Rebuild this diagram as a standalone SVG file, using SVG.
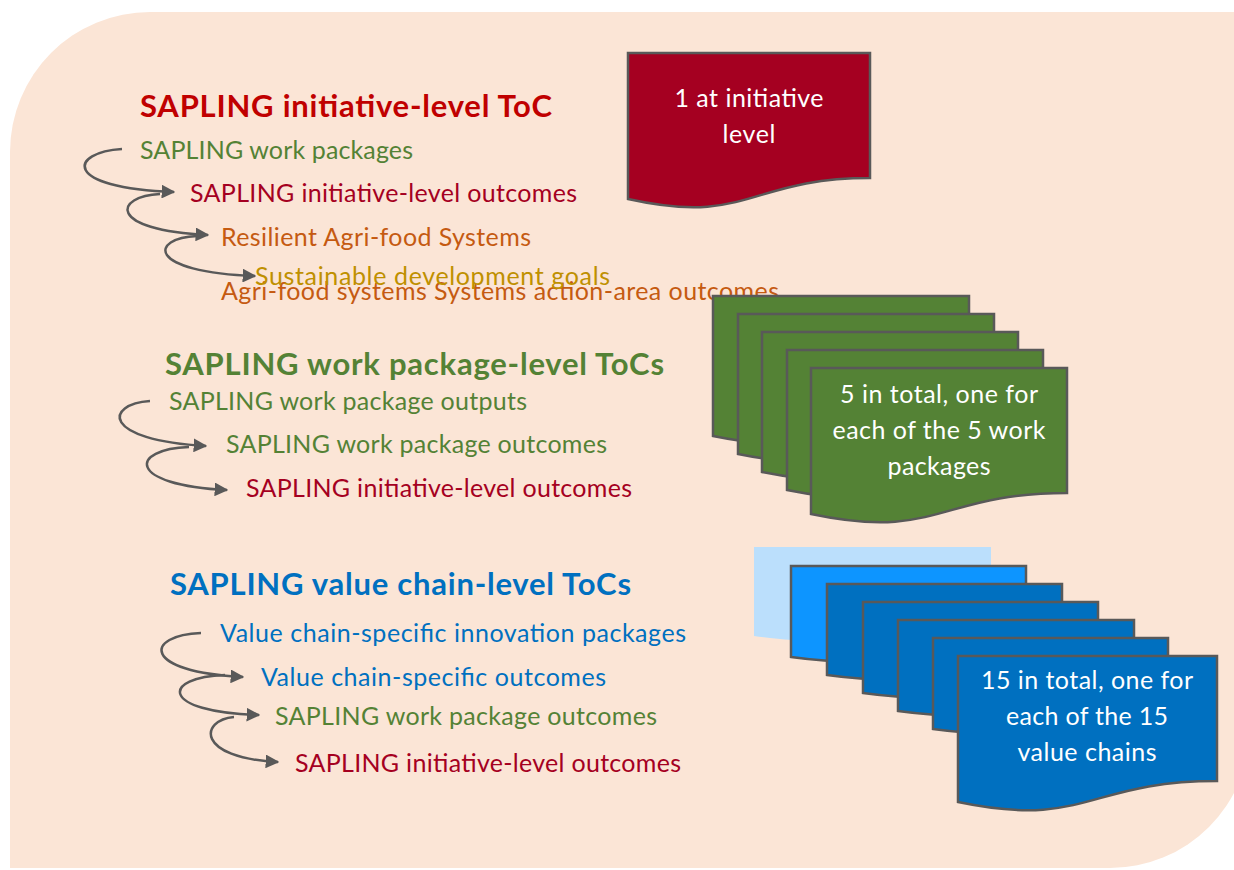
<svg xmlns="http://www.w3.org/2000/svg" width="1234" height="870" viewBox="0 0 1234 870">
  <style>
    text { font-family: Lato, "Open Sans", "Liberation Sans", sans-serif; }
    .title { font-size: 31px; font-weight: bold; }
    .item { font-size: 25px; }
    .doc-text { font-size: 25px; fill: #ffffff; text-anchor: middle; }
    .doc { stroke: #595959; stroke-width: 2.5; stroke-linejoin: miter; }
    .green { fill: #548235; }
    .crimson { fill: #A50021; }
    .orange { fill: #C55A11; }
    .gold { fill: #BF9000; }
    .blue { fill: #0070C0; }
    .red { fill: #C00000; }
    .conn { fill: none; stroke: #595959; stroke-width: 2.5; marker-end: url(#arrow); }
  </style>
  <defs>
    <marker id="arrow" viewBox="0 0 10 10" refX="9" refY="5" markerWidth="5.5" markerHeight="5.5" orient="auto" markerUnits="strokeWidth">
      <path d="M0,0 L10,5 L0,10 Z" fill="#595959"/>
    </marker>
  </defs>

  <!-- backdrop panel with two rounded corners -->
  <path d="M10,152 A140,140 0 0 1 150,12 H1250 V728 A140,140 0 0 1 1110,868 H10 Z" fill="#FBE5D6"/>

  <!-- initiative-level section -->
  <g id="initiative-section">
    <text class="title red" x="140" y="117" textLength="412">SAPLING initiative-level ToC</text>
    <text class="item green" x="140" y="159" textLength="273">SAPLING work packages</text>
    <text class="item crimson" x="190" y="202" textLength="387">SAPLING initiative-level outcomes</text>
    <text class="item orange" x="221" y="246" textLength="310">Resilient Agri-food Systems</text>
    <text class="item orange" x="221" y="300" textLength="558">Agri-food systems Systems action-area outcomes</text>
    <text class="item gold" x="255" y="285" textLength="355">Sustainable development goals</text>
  </g>

  <!-- work-package section -->
  <g id="work-package-section">
    <text class="title green" x="165" y="375" textLength="499">SAPLING work package-level ToCs</text>
    <text class="item green" x="169" y="410" textLength="358">SAPLING work package outputs</text>
    <text class="item green" x="226" y="453" textLength="381">SAPLING work package outcomes</text>
    <text class="item crimson" x="246" y="497" textLength="386">SAPLING initiative-level outcomes</text>
  </g>

  <!-- value-chain section -->
  <g id="value-chain-section">
    <text class="title blue" x="170" y="595" textLength="461">SAPLING value chain-level ToCs</text>
    <text class="item blue" x="220" y="642" textLength="466">Value chain-specific innovation packages</text>
    <text class="item blue" x="261" y="686" textLength="345">Value chain-specific outcomes</text>
    <text class="item green" x="275" y="725" textLength="382">SAPLING work package outcomes</text>
    <text class="item crimson" x="295" y="772" textLength="386">SAPLING initiative-level outcomes</text>
  </g>

  <!-- curved connectors between the levels -->
  <g id="connectors">
    <path class="conn" d="M122,149 C70,152 60,188 174,192"/>
    <path class="conn" d="M160,194 C115,196 105,230 208,235"/>
    <path class="conn" d="M197,236 C150,238 145,272 255,276"/>

    <path class="conn" d="M150,401 C105,404 100,440 206,446"/>
    <path class="conn" d="M189,447 C130,449 125,485 227,490"/>

    <path class="conn" d="M201,633 C145,635 140,672 243,677"/>
    <path class="conn" d="M225,675 C162,677 158,712 259,715"/>
    <path class="conn" d="M234,717 C200,720 195,758 278,762"/>
  </g>

  <!-- single initiative document -->
  <g id="initiative-doc">
    <path class="doc" fill="#A50021" d="M628,53 H870 V178 C749,178 749,226 628,199 Z"/>
    <text class="doc-text" x="749" y="107" textLength="149">1 at initiative</text>
    <text class="doc-text" x="749" y="143" textLength="53">level</text>
  </g>

  <!-- stack of five work-package documents -->
  <g id="work-package-docs">
    <path class="doc" fill="#548235" d="M713,296 H969 V416 C841,416 841,462 713,436 Z"/>
    <path class="doc" fill="#548235" d="M738,314 H994 V434 C866,434 866,480 738,454 Z"/>
    <path class="doc" fill="#548235" d="M762,332 H1018 V452 C890,452 890,498 762,472 Z"/>
    <path class="doc" fill="#548235" d="M787,350 H1043 V470 C915,470 915,516 787,490 Z"/>
    <path class="doc" fill="#548235" d="M811,368 H1067 V493 C939,493 939,541 811,514 Z"/>
    <text class="doc-text" x="939" y="403" textLength="198">5 in total, one for</text>
    <text class="doc-text" x="939" y="439" textLength="213">each of the 5 work</text>
    <text class="doc-text" x="939" y="475" textLength="103">packages</text>
  </g>

  <!-- stack of value-chain documents -->
  <g id="value-chain-docs">
    <path fill="#BBDFFC" d="M754,547 H991 V623 C872.5,623 872.5,652 754,636 Z"/>
    <path class="doc" fill="#0D95FF" d="M791,566 H1026 V644 C908.5,644 908.5,673 791,657 Z"/>
    <path class="doc" fill="#0070C0" d="M827,584 H1062 V662 C944.5,662 944.5,691 827,675 Z"/>
    <path class="doc" fill="#0070C0" d="M863,602 H1098 V680 C980.5,680 980.5,709 863,693 Z"/>
    <path class="doc" fill="#0070C0" d="M898,620 H1134 V698 C1016,698 1016,727 898,711 Z"/>
    <path class="doc" fill="#0070C0" d="M933,638 H1168 V716 C1050.5,716 1050.5,745 933,729 Z"/>
    <path class="doc" fill="#0070C0" d="M958,656 H1217 V781 C1087.5,781 1087.5,829 958,802 Z"/>
    <text class="doc-text" x="1087" y="689" textLength="212">15 in total, one for</text>
    <text class="doc-text" x="1087" y="725" textLength="162">each of the 15</text>
    <text class="doc-text" x="1087" y="761" textLength="139">value chains</text>
  </g>
</svg>
